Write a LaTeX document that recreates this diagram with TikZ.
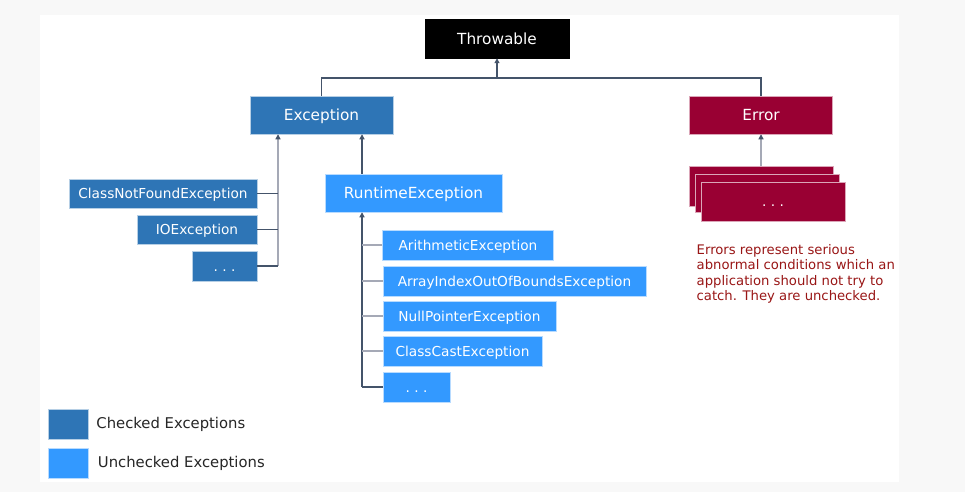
\documentclass[tikz,border=0pt]{standalone}
\usepackage{fontspec}
\setmainfont{DejaVu Sans}
\usetikzlibrary{arrows.meta, positioning, calc}

\definecolor{chkblue}{HTML}{2E75B6}
\definecolor{unchkblue}{HTML}{3399FF}
\definecolor{errred}{HTML}{990033}
\definecolor{notered}{HTML}{991616}
\definecolor{linkgray}{HTML}{44546A}
\definecolor{lightlink}{HTML}{A5A9B6}
\definecolor{pagebg}{HTML}{F8F8F8}

\tikzset{
  box/.style={rectangle, inner sep=0pt, text=white, fill=#1, draw=white!65!#1, line width=0.5pt,
    text height=10pt, text depth=0pt},
  head/.style={box=#1, minimum height=38pt, text height=11.2pt, font=\fontsize{15.3}{18}\selectfont},
  leaf/.style={box=#1, minimum height=29.5pt, font=\fontsize{13.7}{16}\selectfont},
  legtext/.style={inner sep=0pt, text=black!85, font=\fontsize{14.8}{17}\selectfont},
  link/.style={draw=linkgray, line width=1.1pt},
  arr/.style={link, -{Triangle[length=5pt, width=5pt, color=linkgray]}},
}

\begin{document}
\begin{tikzpicture}[x=1pt, y=-1pt]
\fill[pagebg] (0,0) rectangle (965,492);
\fill[white] (40,15) rectangle (899,482);
\useasboundingbox (0,0) rectangle (965,492);
% Throwable
\node[head=black, draw=black, minimum width=144pt, minimum height=39pt] (thr) at (497,38.5) {Throwable};
% Exception, Error
\node[head=chkblue, minimum width=143pt] (exc) at (321.5,115) {Exception};
\node[head=errred, minimum width=143pt] (err) at (761,115) {Error};
\coordinate (bus) at (497,78);
\draw[link] (exc.north) |- (bus) -| (err.north);
\draw[arr] (bus) -- (thr.south);
% checked
\node[leaf=chkblue, minimum width=188pt] (cnf) at (163,193.5) {ClassNotFoundException};
\node[leaf=chkblue, minimum width=120pt] (ioe) at (197,229.5) {IOException};
\node[leaf=chkblue, minimum width=65pt, minimum height=30pt] (cdots) at (224.5,266) {.\ .\ .};
\coordinate (lbus) at (278,266);
\draw[arr, draw=lightlink] (lbus) -- (lbus |- exc.south);
\foreach \n in {cnf, ioe, cdots}
  \draw[link] (\n.east) -- (\n.east -| lbus);
% unchecked
\node[head=unchkblue, minimum width=177pt] (rte) at (413.5,193) {RuntimeException};
\coordinate (rbus) at (362,387);
\draw[arr] (rbus |- rte.north) -- (rbus |- exc.south);
\node[leaf=unchkblue, minimum width=171pt] (ari) at (468,245) {ArithmeticException};
\node[leaf=unchkblue, minimum width=263pt] (aio) at (514.5,281) {ArrayIndexOutOfBoundsException};
\node[leaf=unchkblue, minimum width=173pt] (npe) at (469.5,316) {NullPointerException};
\node[leaf=unchkblue, minimum width=159pt] (cce) at (462.5,351) {ClassCastException};
\node[leaf=unchkblue, minimum width=67pt, minimum height=30pt] (udots) at (416.5,387) {.\ .\ .};
\draw[arr] (rbus) -- (rbus |- rte.south);
\foreach \n in {ari, aio, npe, cce}
  \draw[link, draw=lightlink] (\n.west) -- (\n.west -| rbus);
\draw[link] (udots.west) -- (rbus);
% errors
\node[box=errred, minimum width=143.5pt, minimum height=40pt] (err1) at (761,186) {};
\node[box=errred, minimum width=143.5pt, minimum height=38.5pt] (err2) at (767.3,193) {};
\node[box=errred, minimum width=144pt, minimum height=38.5pt, font=\fontsize{13.7}{16}\selectfont] (err3) at (773,201.5) {.\ .\ .};
\draw[arr, draw=lightlink] (err1.north) -- (err.south);
\node[anchor=north west, align=left, inner sep=0pt, text=notered, font=\fontsize{13.2}{15.5}\selectfont] (note) at (696.5,244)
  {Errors represent serious\\abnormal conditions which an\\application should not try to\\catch. They are unchecked.};
% legend
\node[box=chkblue, minimum width=40pt, minimum height=30pt] (lchk) at (68,424) {};
\node[legtext, right=8pt of lchk] (lchktext) {Checked Exceptions};
\node[box=unchkblue, minimum width=40pt, minimum height=30pt] (lunchk) at (68,463) {};
\node[legtext, right=9.5pt of lunchk] (lunchktext) {Unchecked Exceptions};
\end{tikzpicture}
\end{document}
